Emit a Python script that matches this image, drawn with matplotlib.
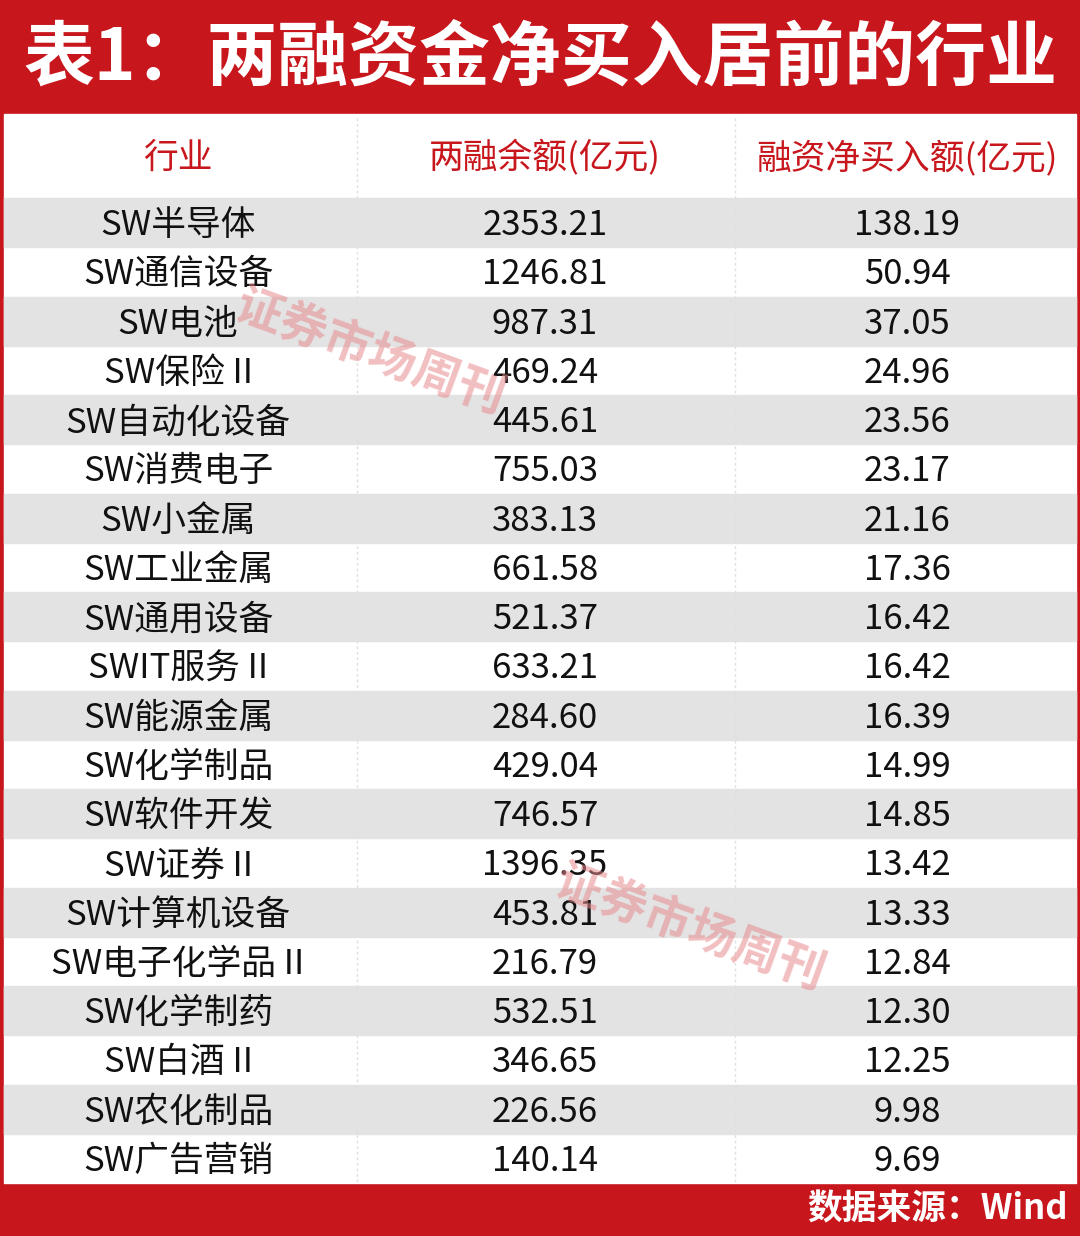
import matplotlib
matplotlib.use("Agg")
import matplotlib.pyplot as plt
from matplotlib.patches import Rectangle

plt.rcParams['font.family'] = ['Noto Sans CJK SC', 'DejaVu Sans']

title = "表1：两融资金净买入居前的行业"
headers = ["行业", "两融余额(亿元)", "融资净买入额(亿元)"]
industries = ["SW半导体", "SW通信设备", "SW电池", "SW保险Ⅱ", "SW自动化设备", "SW消费电子",
              "SW小金属", "SW工业金属", "SW通用设备", "SWIT服务Ⅱ", "SW能源金属", "SW化学制品",
              "SW软件开发", "SW证券Ⅱ", "SW计算机设备", "SW电子化学品Ⅱ", "SW化学制药", "SW白酒Ⅱ",
              "SW农化制品", "SW广告营销"]
industries = [s.replace("Ⅱ", " II") for s in industries]
balance = ["2353.21", "1246.81", "987.31", "469.24", "445.61", "755.03", "383.13", "661.58",
           "521.37", "633.21", "284.60", "429.04", "746.57", "1396.35", "453.81", "216.79",
           "532.51", "346.65", "226.56", "140.14"]
net_buy = ["138.19", "50.94", "37.05", "24.96", "23.56", "23.17", "21.16", "17.36", "16.42",
           "16.42", "16.39", "14.99", "14.85", "13.42", "13.33", "12.84", "12.30", "12.25",
           "9.98", "9.69"]
source = "数据来源：Wind"

W, H = 1080, 1236
fig = plt.figure(figsize=(W / 100, H / 100), dpi=100)
ax = fig.add_axes([0, 0, 1, 1])
ax.set_xlim(0, W)
ax.set_ylim(H, 0)
ax.axis('off')

red = '#c8161d'
ax.add_patch(Rectangle((0, 0), W, H, color=red))
ax.add_patch(Rectangle((4, 114), W - 8, 1183 - 114, color='white'))
ax.text(W / 2, 58, title, ha='center', va='center', fontsize=51, fontweight='heavy', color='white')

col_x = [178, 545, 907]
for x, h in zip(col_x, headers):
    ax.text(x, 158, h, ha='center', va='center', fontsize=25, fontweight='medium', color=red)

top, bottom = 198, 1183
n = len(industries)
rh = (bottom - top) / n
for i in range(n):
    y0 = top + i * rh
    if i % 2 == 0:
        ax.add_patch(Rectangle((4, y0), W - 8, rh, color='#e3e3e3'))
    yc = y0 + rh / 2 + 3
    for x, t in zip(col_x, [industries[i], balance[i], net_buy[i]]):
        ax.text(x, yc, t, ha='center', va='center', fontsize=25, fontweight='medium', color='#111111')

for x in (357, 735):
    ax.plot([x, x], [118, bottom], color='#e0e0e0', lw=1, ls=(0, (2, 2)))

for (x, y) in [(370, 352), (690, 928)]:
    ax.text(x, y, "证券市场周刊", ha='center', va='center', fontsize=34, color='#e88a8e',
            alpha=0.55, rotation=-20, fontweight='bold')

ax.text(1068, 1209, source, ha='right', va='center', fontsize=25, fontweight='bold', color='white')

fig.savefig("out.png", dpi=100)
